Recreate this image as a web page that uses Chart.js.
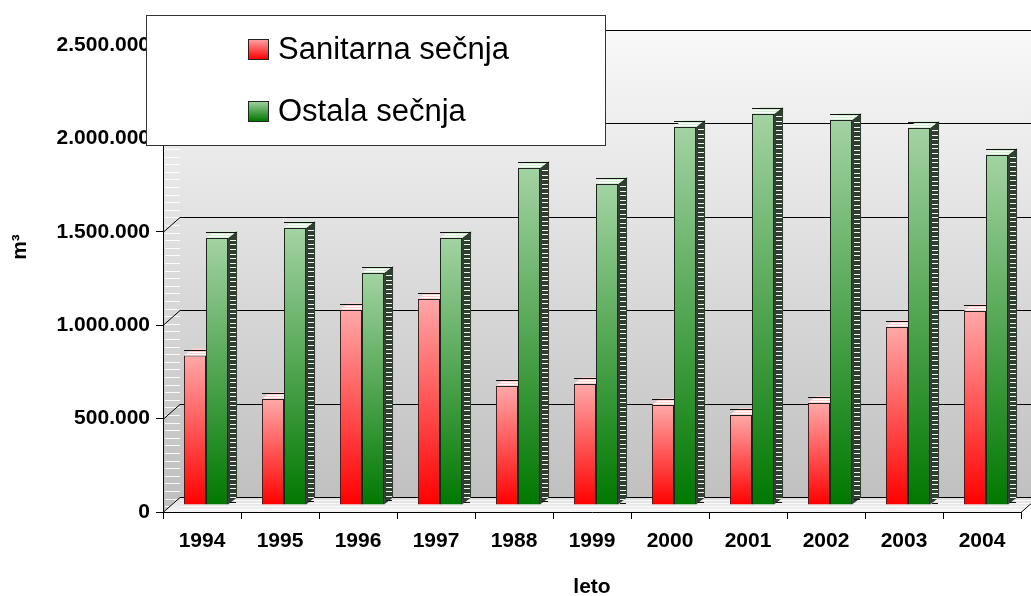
<!DOCTYPE html>
<html>
<head>
<meta charset="utf-8">
<script src="https://cdn.jsdelivr.net/npm/chart.js@4.4.1/dist/chart.umd.min.js"></script>
<style>
  html, body { margin: 0; padding: 0; background: #fff; }
</style>
</head>
<body>
<canvas id="chart" width="1031" height="596"></canvas>
<script>
// data
const years = ['1994', '1995', '1996', '1997', '1988', '1999', '2000', '2001', '2002', '2003', '2004'];
const sanitarna = [800000, 567000, 1044000, 1103000, 637000, 648000, 535000, 482000, 546000, 953000, 1039000];
const ostala = [1430000, 1483000, 1242000, 1430000, 1804000, 1718000, 2024000, 2093000, 2061000, 2018000, 1874000];
const yTicks = [0, 500000, 1000000, 1500000, 2000000, 2500000];
const seriesNames = ['Sanitarna sečnja', 'Ostala sečnja'];

const FONT = "'Liberation Sans', Arial, sans-serif";
const WALL_DX = 17, WALL_DY = -15;   // depth of the 3d box
const BAR_DX = 9, BAR_DY = -7;       // depth of one column
const SHIFT_X = 4, SHIFT_Y = -7;     // columns sit half way back

const fills = [
  { top: '#ffa8a8', bottom: '#ff0000', side: '#4a2a2a', lid: '#ffd0d0' },
  { top: '#a3d3a3', bottom: '#007800', side: '#2f3f2f', lid: '#d4ecd4' }
];

function barFill(c, f) {
  const y = c.chart.scales.y;
  if (!y || c.raw == null) return f.bottom;
  const y1 = y.getPixelForValue(c.raw), y0 = y.getPixelForValue(0);
  if (!Number.isFinite(y1) || !Number.isFinite(y0) || y0 === y1) return f.bottom;
  const g = c.chart.ctx.createLinearGradient(0, y1, 0, y0);
  g.addColorStop(0, f.top);
  g.addColorStop(1, f.bottom);
  return g;
}

function fmt(v) {
  return String(v).replace(/\B(?=(\d{3})+(?!\d))/g, '.');
}

const depthPlugin = {
  id: 'depth',
  beforeDraw(chart) {
    const { ctx, chartArea: a, scales: { y } } = chart;
    const top = a.top + WALL_DY, bottom = a.bottom + WALL_DY;
    ctx.save();

    const wall = ctx.createLinearGradient(0, top, 0, bottom);
    wall.addColorStop(0, '#f9f9f9');
    wall.addColorStop(1, '#c0c0c0');
    ctx.fillStyle = wall;
    ctx.fillRect(a.left + WALL_DX, top, a.right - a.left, bottom - top);

    // left side wall with its white dashes
    ctx.beginPath();
    ctx.moveTo(a.left, a.top);
    ctx.lineTo(a.left + WALL_DX, top);
    ctx.lineTo(a.left + WALL_DX, bottom);
    ctx.lineTo(a.left, a.bottom);
    ctx.closePath();
    ctx.fill();
    ctx.save();
    ctx.clip();
    ctx.strokeStyle = 'rgba(255,255,255,0.9)';
    ctx.lineWidth = 1;
    for (let yy = top + 5; yy < a.bottom; yy += 7.6) {
      const py = Math.round(yy) + 0.5;
      ctx.beginPath();
      ctx.moveTo(a.left + 2, py);
      ctx.lineTo(a.left + WALL_DX, py);
      ctx.stroke();
    }
    ctx.restore();

    // floor
    const floor = ctx.createLinearGradient(0, bottom, 0, a.bottom);
    floor.addColorStop(0, '#dcdcdc');
    floor.addColorStop(1, '#f4f4f4');
    ctx.fillStyle = floor;
    ctx.beginPath();
    ctx.moveTo(a.left, a.bottom);
    ctx.lineTo(a.right, a.bottom);
    ctx.lineTo(a.right + WALL_DX, bottom);
    ctx.lineTo(a.left + WALL_DX, bottom);
    ctx.closePath();
    ctx.fill();
    ctx.strokeStyle = 'rgba(255,255,255,0.8)';
    for (let yy = bottom + 3; yy < a.bottom - 1; yy += 3) {
      ctx.beginPath();
      ctx.moveTo(a.left + WALL_DX, Math.round(yy) + 0.5);
      ctx.lineTo(a.right + WALL_DX, Math.round(yy) + 0.5);
      ctx.stroke();
    }

    // grid lines on the back wall
    ctx.strokeStyle = '#000';
    ctx.lineWidth = 1;
    y.ticks.forEach(t => {
      const py = Math.round(y.getPixelForValue(t.value)) + 0.5;
      ctx.beginPath();
      ctx.moveTo(a.left, py);
      ctx.lineTo(a.left + WALL_DX, py + WALL_DY);
      ctx.lineTo(a.right + WALL_DX, py + WALL_DY);
      ctx.stroke();
    });
    ctx.beginPath();
    ctx.moveTo(a.right, a.bottom + 0.5);
    ctx.lineTo(a.right + WALL_DX, bottom + 0.5);
    ctx.stroke();
    ctx.restore();
  },
  beforeDatasetDraw(chart) {
    chart.ctx.save();
    chart.ctx.translate(SHIFT_X, SHIFT_Y);
  },
  afterDatasetDraw(chart, args) {
    const ctx = chart.ctx;
    const meta = args.meta;
    const f = fills[args.index];
    meta.data.forEach((bar, j) => {
      const { x, y, width, base } = bar.getProps(['x', 'y', 'width', 'base'], true);
      const L = x - width / 2, R = x + width / 2;
      ctx.save();
      // keep faces behind the columns standing to the right
      ctx.beginPath();
      ctx.rect(-50, -50, chart.width + 100, chart.height + 100);
      chart.data.datasets.forEach((ds, k) => {
        if (k <= args.index) return;
        const b = chart.getDatasetMeta(k).data[j];
        if (!b) return;
        const p = b.getProps(['x', 'y', 'width', 'base'], true);
        ctx.rect(p.x - p.width / 2, p.y, p.width, p.base - p.y);
      });
      ctx.clip('evenodd');

      // side face
      ctx.beginPath();
      ctx.moveTo(R, y);
      ctx.lineTo(R + BAR_DX, y + BAR_DY);
      ctx.lineTo(R + BAR_DX, base + BAR_DY);
      ctx.lineTo(R, base);
      ctx.closePath();
      ctx.fillStyle = f.side;
      ctx.fill();
      ctx.save();
      ctx.clip();
      ctx.strokeStyle = '#f4f4f4';
      ctx.lineWidth = 1;
      for (let yy = y + 2; yy < base - 1; yy += 4.6) {
        const py = Math.round(yy) + 0.5;
        ctx.beginPath();
        ctx.moveTo(R + 2, py);
        ctx.lineTo(R + BAR_DX - 1, py);
        ctx.stroke();
      }
      ctx.restore();
      ctx.strokeStyle = '#111';
      ctx.lineWidth = 1;
      ctx.stroke();

      // top face
      ctx.beginPath();
      ctx.moveTo(L, y);
      ctx.lineTo(L + BAR_DX, y + BAR_DY);
      ctx.lineTo(R + BAR_DX, y + BAR_DY);
      ctx.lineTo(R, y);
      ctx.closePath();
      ctx.fillStyle = f.lid;
      ctx.fill();
      ctx.save();
      ctx.clip();
      ctx.strokeStyle = 'rgba(255,255,255,0.9)';
      for (let k = 2; k < -BAR_DY; k += 2) {
        ctx.beginPath();
        ctx.moveTo(L, Math.round(y - k) + 0.5);
        ctx.lineTo(R + BAR_DX, Math.round(y - k) + 0.5);
        ctx.stroke();
      }
      ctx.restore();
      ctx.strokeStyle = '#111';
      ctx.stroke();
      ctx.restore();
    });
    ctx.restore();
  },
  afterDraw(chart) {
    const ctx = chart.ctx;
    ctx.save();
    // y axis title
    ctx.translate(20, 247);
    ctx.rotate(-Math.PI / 2);
    ctx.fillStyle = '#000';
    ctx.font = 'bold 21px ' + FONT;
    ctx.textAlign = 'center';
    ctx.textBaseline = 'middle';
    ctx.fillText('m³', 0, 0);
    ctx.restore();

    // legend box
    ctx.save();
    ctx.fillStyle = '#fff';
    ctx.fillRect(146, 15, 459, 130);
    ctx.strokeStyle = '#333';
    ctx.lineWidth = 1;
    ctx.strokeRect(146.5, 15.5, 459, 130);
    ctx.font = '31px ' + FONT;
    ctx.textBaseline = 'alphabetic';
    chart.data.datasets.forEach((ds, i) => {
      const sy = 39 + i * 62;
      const g = ctx.createLinearGradient(0, sy, 0, sy + 20);
      g.addColorStop(0, fills[i].top);
      g.addColorStop(1, fills[i].bottom);
      ctx.fillStyle = g;
      ctx.fillRect(248, sy, 20, 20);
      ctx.strokeStyle = '#222';
      ctx.strokeRect(248.5, sy + 0.5, 20, 20);
      ctx.fillStyle = '#000';
      ctx.fillText(ds.label, 278, sy + 20);
    });
    ctx.restore();
  }
};

new Chart(document.getElementById('chart'), {
  type: 'bar',
  data: {
    labels: years,
    datasets: [
      {
        label: seriesNames[0],
        data: sanitarna,
        backgroundColor: c => barFill(c, fills[0]),
        borderColor: '#222',
        borderWidth: 1,
        categoryPercentage: 0.565,
        barPercentage: 1
      },
      {
        label: seriesNames[1],
        data: ostala,
        backgroundColor: c => barFill(c, fills[1]),
        borderColor: '#222',
        borderWidth: 1,
        categoryPercentage: 0.565,
        barPercentage: 1
      }
    ]
  },
  options: {
    responsive: false,
    animation: false,
    layout: { padding: { top: 45, right: 10, left: 0, bottom: 0 } },
    plugins: {
      legend: { display: false },
      tooltip: { enabled: false }
    },
    scales: {
      x: {
        offset: true,
        grid: { offset: true, drawOnChartArea: false, color: '#000', tickLength: 7 },
        border: { color: '#000' },
        ticks: {
          color: '#000',
          font: { family: FONT, size: 21, weight: 'bold' },
          padding: 10,
          maxRotation: 0,
          autoSkip: false
        },
        title: {
          display: true,
          text: 'leto',
          color: '#000',
          font: { family: FONT, size: 21, weight: 'bold', lineHeight: 1 },
          padding: { top: 0, bottom: -2 }
        },
        afterFit: s => { s.height = 84; }
      },
      y: {
        min: 0,
        max: 2500000,
        afterBuildTicks: s => { s.ticks = yTicks.map(v => ({ value: v })); },
        grid: { drawOnChartArea: false, color: '#000', tickLength: 7 },
        border: { color: '#000' },
        ticks: {
          color: '#000',
          font: { family: FONT, size: 21, weight: 'bold' },
          padding: 6,
          callback: v => fmt(v)
        },
        afterFit: s => { s.width = 163; }
      }
    }
  },
  plugins: [depthPlugin]
});
</script>
</body>
</html>
